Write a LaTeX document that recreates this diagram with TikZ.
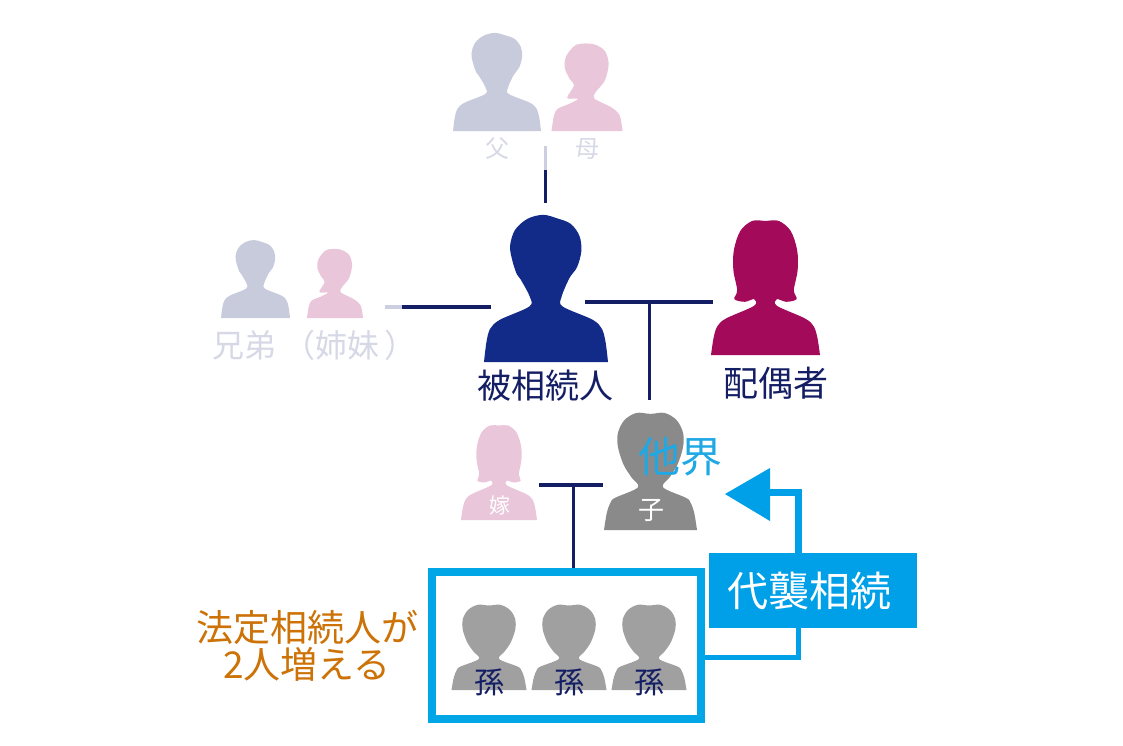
\documentclass[tikz,border=0pt]{standalone}
\usepackage{fontspec}
\setmainfont{Noto Sans CJK JP}
\usetikzlibrary{arrows.meta,calc}
\definecolor{navyline}{HTML}{141E64}
\definecolor{paleline}{HTML}{CDCFE0}
\definecolor{manpale}{HTML}{C8CBDC}
\definecolor{womanpale}{HTML}{E9C6DA}
\definecolor{deadgrey}{HTML}{8A8A8A}
\definecolor{kidgrey}{HTML}{A0A0A0}
\definecolor{manblue}{HTML}{122A88}
\definecolor{wifered}{HTML}{A30A5A}
\definecolor{skyline}{HTML}{00A6E6}
\definecolor{skybox}{HTML}{00A0E9}
\definecolor{skytext}{HTML}{1FA8E4}
\definecolor{orangetext}{HTML}{CC7206}
\definecolor{palelabel}{HTML}{D6D8E6}
\tikzset{
    x=1pt,y=-1pt,
    manfig/.pic={
        \path[pic actions] (-1,0) -- plot[smooth,tension=.55] coordinates {(-1,0) (-.96,.4) (-.9,.66) (-.74,.84) (-.27,1.1) (-.26,1.29) (-.41,1.64) (-.47,1.74) (-.54,2) (-.58,2.3) (-.5,2.62) (-.3,2.84) (-.05,2.92) (.18,2.85) (.4,2.74) (.54,2.5) (.57,2.2) (.5,1.88) (.38,1.67) (.25,1.29) (.27,1.1) (.75,.84) (.9,.66) (.96,.4) (1,0)} -- cycle;
    },
    roundfig/.pic={
        \path[pic actions] (-1,0) -- plot[smooth,tension=.55] coordinates {(-1,0) (-.94,.36) (-.86,.58) (-.76,.68) (-.27,.9) (-.41,1.11) (-.58,1.38) (-.7,1.75) (-.7,2.05) (-.56,2.32) (-.3,2.47) (0,2.45) (.3,2.47) (.56,2.32) (.7,2.05) (.7,1.75) (.58,1.38) (.41,1.11) (.27,.9) (.76,.68) (.86,.58) (.94,.36) (1,0)} -- cycle;
    },
    womanfig/.pic={
        \path[pic actions] (-1,0) -- plot[smooth,tension=.55] coordinates {(-1,0) (-.95,.4) (-.88,.65) (-.72,.82) (-.21,1.1) (-.21,1.25) (-.38,1.19) (-.57,1.25) (-.52,1.45) (-.59,1.9) (-.58,2.35) (-.46,2.78) (-.24,3) (0,3) (.24,3) (.46,2.78) (.58,2.35) (.59,1.9) (.52,1.45) (.57,1.25) (.38,1.19) (.21,1.25) (.21,1.1) (.72,.82) (.88,.65) (.95,.4) (1,0)} -- cycle;
    },
    tailfig/.pic={
        \path[pic actions] (-1,0) -- plot[smooth,tension=.5] coordinates {(-1,0) (-.93,.44) (-.82,.63) (-.49,.77) (-.25,.91) (-.56,.93) (-.37,1.28) (-.49,1.47) (-.63,1.79) (-.58,2.12) (-.3,2.43) (.17,2.45) (.5,2.26) (.61,1.89) (.5,1.42) (.24,1.09) (.21,.91) (.68,.67) (.92,.44) (1,0)} -- cycle;
    },
    linkline/.style={draw=navyline,line width=3pt},
    paleseg/.style={draw=paleline,line width=3pt},
    skyarrow/.style={draw=skybox,line width=7pt},
    lab/.style={inner sep=0pt,font=\fontsize{#1}{#1}\selectfont},
}
\begin{document}
\begin{tikzpicture}
    \useasboundingbox (0,0) rectangle (1123,745);

    \pic[fill=manpale,xscale=44,yscale=-33.6] at (497,131) {manfig};
    \pic[fill=womanpale,xscale=35.5,yscale=-35.5] at (587,131) {tailfig};
    \pic[fill=manpale,xscale=34.5,yscale=-26.7] at (255.5,318) {manfig};
    \pic[fill=womanpale,xscale=28,yscale=-28] at (335,318) {tailfig};
    \pic[fill=manblue,xscale=62,yscale=-50.4] at (546,362) {manfig};
    \pic[fill=wifered,xscale=54.5,yscale=-44.7] at (765.5,355) {womanfig};
    \pic[fill=womanpale,xscale=38,yscale=-31.5] at (499,520) {womanfig};
    \pic[fill=deadgrey,xscale=46.5,yscale=-47.4] at (650.5,530) {roundfig};
    \foreach \cx in {489,569,649} {
        \pic[fill=kidgrey,xscale=37.5,yscale=-34.5] at (\cx,690) {roundfig};
        \node[lab=30,text=navyline] (son\cx) at (\cx,682) {孫};
    }

    \node[lab=24,text=palelabel] (father) at (497,149) {父};
    \node[lab=24,text=palelabel] (mother) at (587,149) {母};
    \node[lab=32,text=palelabel,anchor=west] (sibling) at (212,345) {兄弟\hspace{7pt}（姉妹\hspace{5pt}）};
    \node[lab=34,text=navyline] (deceased) at (545.5,386) {被相続人};
    \node[lab=35,text=navyline] (spouse) at (776,383) {配偶者};
    \node[lab=42,text=skytext] (passed) at (680,457) {他界};
    \node[lab=21,text=white] (bride) at (500,506) {嫁};
    \node[lab=26,text=white] (child) at (651,510) {子};
    \node[lab=37,text=orangetext,align=center] (gain) at (307,646) {法定相続人が\\2人増える};

    \node[draw=skyline,line width=8pt,minimum width=269pt,minimum height=147pt,inner sep=0pt] (kidbox) at (566.5,645.5) {};
    \node[fill=skybox,minimum width=208pt,minimum height=75pt,inner sep=0pt] (heir) at (813,590.5) {};
    \node[lab=41,text=white] (heirtext) at (809,591) {代襲相続};

    \coordinate (parentup) at (545,146);
    \coordinate (parentmid) at (545,170);
    \coordinate (parentdown) at (545,203);
    \draw[paleseg] (parentup) -- (parentmid);
    \draw[linkline] (parentmid) -- (parentdown);

    \coordinate (sibpale) at (385,307);
    \coordinate (sibmid) at (402,307);
    \coordinate (sibend) at (491,307);
    \draw[paleseg,line width=4pt] (sibpale) -- (sibmid);
    \draw[linkline,line width=4pt] (sibmid) -- (sibend);

    \coordinate (wedleft) at (585,302);
    \coordinate (wedright) at (713,302);
    \coordinate (wedtop) at (649,302);
    \coordinate (wedfoot) at (649,400);
    \draw[linkline,line width=4pt] (wedleft) -- (wedright);
    \draw[linkline] (wedtop) -- (wedfoot);

    \coordinate (kidleft) at (539,485);
    \coordinate (kidright) at (603,485);
    \coordinate (kidtop) at (573,485);
    \draw[linkline,line width=4pt] (kidleft) -- (kidright);
    \draw[linkline] (kidtop) -- (kidtop |- kidbox.north);

    \coordinate (arrowelbow) at (798,492);
    \coordinate (arrowtip) at (725,494);
    \coordinate (boxfoot) at (798,628);
    \coordinate (boxtop) at (798,553);
    \coordinate (frameout) at (705,657);
    \draw[skyarrow,line width=5pt] (frameout) -| (boxfoot);
    \draw[skyarrow] (boxtop) -- (arrowelbow) -- (770,492);
    \fill[skybox] (arrowtip) -- (770,468) -- (770,521) -- cycle;
\end{tikzpicture}
\end{document}
